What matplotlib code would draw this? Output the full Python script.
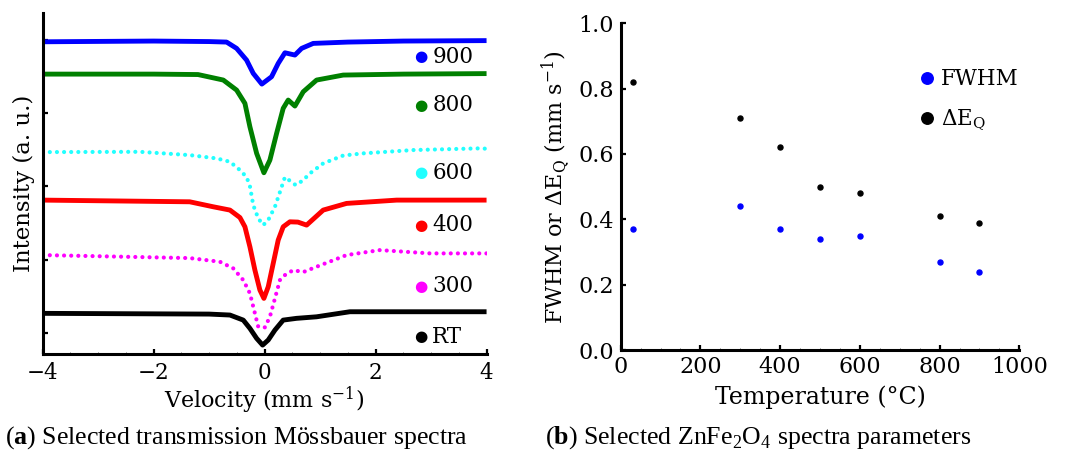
import numpy as np
import matplotlib
matplotlib.use("Agg")
import matplotlib.pyplot as plt

plt.rcParams['font.family'] = ['DejaVu Serif', 'DejaVu Sans']
plt.rcParams['mathtext.fontset'] = 'dejavuserif'
plt.rcParams['mathtext.rm'] = 'Liberation Serif'
plt.rcParams['mathtext.bf'] = 'Liberation Serif:bold'

# --- (a) Mossbauer spectra, intensity in a.u. (offsets already included) ---
v_900 = [-4.0, -2.0, -1.0, -0.685, -0.505, -0.325, -0.205, -0.05, 0.125, 0.245,
         0.366, 0.546, 0.667, 0.876, 1.5, 2.5, 4.0]
i_900 = [3.974, 3.984, 3.977, 3.970, 3.884, 3.724, 3.543, 3.397, 3.497, 3.679,
         3.824, 3.793, 3.884, 3.952, 3.970, 3.984, 3.990]

v_800 = [-4.0, -2.0, -1.2, -0.745, -0.505, -0.355, -0.265, -0.144, -0.013, 0.095,
         0.216, 0.335, 0.425, 0.546, 0.696, 0.937, 1.416, 2.5, 4.0]
i_800 = [3.533, 3.533, 3.527, 3.452, 3.315, 3.134, 2.814, 2.452, 2.187, 2.360,
         2.724, 3.066, 3.179, 3.097, 3.292, 3.452, 3.520, 3.533, 3.540]

v_600 = [-4.0, -2.25, -1.35, -0.865, -0.625, -0.445, -0.325, -0.265, -0.205, -0.115,
         -0.025, 0.065, 0.186, 0.276, 0.366, 0.56, 0.70, 0.80, 1.056, 1.416,
         1.78, 2.68, 3.88, 4.0]
i_600 = [2.469, 2.473, 2.428, 2.383, 2.337, 2.224, 2.128, 2.005, 1.746, 1.565,
         1.473, 1.542, 1.723, 1.924, 2.128, 2.019, 2.087, 2.169, 2.315, 2.422,
         2.452, 2.497, 2.520, 2.515]

v_400 = [-4.0, -1.35, -0.926, -0.625, -0.445, -0.355, -0.265, -0.175, -0.085, -0.013,
         0.065, 0.155, 0.245, 0.335, 0.456, 0.60, 0.757, 1.056, 1.477, 2.38, 4.0]
i_400 = [1.814, 1.791, 1.723, 1.678, 1.576, 1.450, 1.177, 0.859, 0.587, 0.473,
         0.632, 0.951, 1.269, 1.450, 1.518, 1.514, 1.473, 1.678, 1.769, 1.814, 1.814]

v_300 = [-4.0, -1.35, -0.806, -0.566, -0.385, -0.265, -0.175, -0.115, 0.005, 0.095,
         0.186, 0.276, 0.366, 0.516, 0.696, 0.937, 1.477, 2.077, 2.98, 4.0]
i_300 = [1.064, 1.023, 0.973, 0.883, 0.723, 0.542, 0.269, 0.086, 0.078, 0.222,
         0.473, 0.723, 0.791, 0.859, 0.832, 0.905, 1.064, 1.132, 1.087, 1.087]

v_rt = [-4.0, -1.0, -0.625, -0.385, -0.265, -0.144, -0.036, 0.065, 0.186, 0.335,
        0.576, 0.937, 1.537, 4.0]
i_rt = [0.269, 0.259, 0.246, 0.177, 0.064, -0.072, -0.164, -0.095, 0.041, 0.177,
        0.201, 0.222, 0.291, 0.291]

spectra_labels = ['900', '800', '600', '400', '300', 'RT']
spectra_colors = ['#0000ff', '#008000', '#22ffff', '#ff0000', '#ff00ff', '#000000']

# --- (b) spectra parameters ---
temperature = [30, 300, 400, 500, 600, 800, 900]
fwhm = [0.37, 0.44, 0.37, 0.34, 0.35, 0.27, 0.24]
delta_eq = [0.82, 0.71, 0.62, 0.50, 0.48, 0.41, 0.39]

fig = plt.figure(figsize=(10.67, 4.58), dpi=100)
ax1 = fig.add_axes([0.040, 0.227, 0.416, 0.7445])
ax2 = fig.add_axes([0.5817, 0.2358, 0.3736, 0.7133])


def style_axes(ax):
    for s in ['top', 'right']:
        ax.spines[s].set_visible(False)
    for s in ['left', 'bottom']:
        ax.spines[s].set_linewidth(2.2)
    ax.tick_params(which='major', direction='in', length=3.5, width=1.6, labelsize=15.5)
    ax.tick_params(which='minor', direction='in', length=1.5, width=0.6, color='#555555')


series = [(v_900, i_900), (v_800, i_800), (v_600, i_600),
          (v_400, i_400), (v_300, i_300), (v_rt, i_rt)]
sparse = {'600', '300'}
for (v, inten), lab, col in zip(series, spectra_labels, spectra_colors):
    if lab in sparse:
        ax1.plot(v, inten, color=col, lw=3.0, linestyle=(0, (0.01, 1.7)),
                 dash_capstyle='round', solid_joinstyle='round')
    else:
        ax1.plot(v, inten, color=col, lw=3.5, solid_joinstyle='round',
                 solid_capstyle='butt')

label_y = [3.77, 3.11, 2.19, 1.47, 0.64, -0.05]
for lab, col, y in zip(spectra_labels, spectra_colors, label_y):
    ax1.text(2.81, y, '\u25cf', color=col, fontsize=11, ha='center', va='center',
             family=['DejaVu Sans'])
    ax1.text(3.02, y, lab, color='black', fontsize=15.5, ha='left', va='center')

ax1.set_xlim(-4, 4)
ax1.set_ylim(-0.286, 4.366)
ax1.set_xticks([-4, -2, 0, 2, 4])
ax1.set_xticks(np.arange(-4, 4.01, 0.5), minor=True)
ax1.set_yticks([0, 1, 2, 3, 4])
ax1.set_yticklabels([])
style_axes(ax1)
ax1.tick_params(axis='x', pad=6)
ax1.set_xlabel(r'Velocity (mm s$^{\mathregular{-1}}$)', fontsize=16, labelpad=0)
ax1.set_ylabel('Intensity (a. u.)', fontsize=16.5, labelpad=2)

ax2.plot(temperature, fwhm, 'o', color='#0000ff', ms=3.6, label='FWHM')
ax2.plot(temperature, delta_eq, 'o', color='black', ms=3.6, label=r'ΔE$_\mathregular{Q}$')
ax2.set_xlim(0, 1000)
ax2.set_ylim(0, 1.0)
ax2.set_xticks(np.arange(0, 1001, 200))
ax2.set_xticks(np.arange(0, 1001, 50), minor=True)
ax2.set_yticks(np.arange(0, 1.01, 0.2))
ax2.yaxis.set_major_formatter(matplotlib.ticker.FormatStrFormatter('%.1f'))
style_axes(ax2)
ax2.tick_params(which='major', labelsize=16)
ax2.tick_params(axis='x', pad=4)
ax2.tick_params(axis='y', pad=5)
ax2.set_xlabel('Temperature (°C)', fontsize=17, labelpad=6)
ax2.set_ylabel(r'FWHM or ΔE$_\mathregular{Q}$ (mm s$^{\mathregular{-1}}$)', fontsize=16, labelpad=4)
ax2.legend(loc='upper left', bbox_to_anchor=(0.747, 0.863), frameon=False,
           fontsize=15.5, markerscale=2.3, handlelength=0.8, handletextpad=0.25,
           labelspacing=0.8, borderpad=0, borderaxespad=0)

fig.text(0.005, 0.032, r'($\mathbf{a}$) Selected transmission Mössbauer spectra',
         family='Liberation Serif', fontsize=18.6, math_fontfamily='custom', va='baseline')
fig.text(0.511, 0.032, r'($\mathbf{b}$) Selected ZnFe$_\mathrm{2}$O$_\mathrm{4}$ spectra parameters',
         family='Liberation Serif', fontsize=18.6, math_fontfamily='custom', va='baseline')

fig.savefig('out.png', dpi=100)
